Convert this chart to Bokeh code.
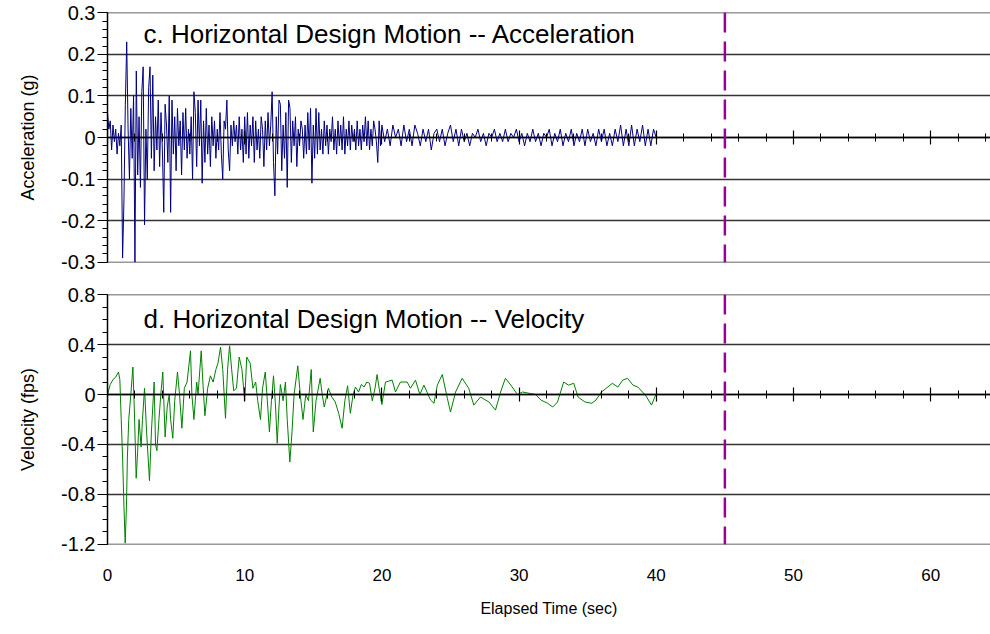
from bokeh.plotting import figure
from bokeh.layouts import column
from bokeh.models import Range1d, FixedTicker, SingleIntervalTicker, LinearAxis, Span, Label, CustomJSTickFormatter
from bokeh.embed import file_html
from bokeh.resources import INLINE

# ---------------- data ----------------
# acceleration (g), 0.0 .. 20.0 s every 0.1 s
acc_early = [
    0.06, 0.02, 0.04, -0.03, 0.03, -0.01, 0.02, -0.04, 0.01, -0.02,
    0.03, -0.29, -0.15, 0.08, 0.23, 0.02, -0.10, 0.07, -0.05, 0.10,
    -0.30, 0.16, -0.09, 0.05, -0.12, 0.11, 0.17, -0.21, 0.02, -0.10,
    0.12, 0.17, -0.05, 0.15, -0.08, 0.05, -0.03, 0.09, -0.07, 0.06,
    -0.03, -0.18, 0.08, 0.03, -0.06, 0.10, -0.18, 0.09, -0.04, 0.05,
    -0.08, 0.07, -0.02, 0.04, -0.09, 0.06, -0.03, 0.07, -0.05, 0.02,
    -0.04, 0.05, -0.10, 0.11, 0.06, -0.07, 0.09, -0.02, 0.09, -0.11,
    0.04, -0.06, 0.07, -0.04, 0.03, -0.07, 0.05, -0.02, 0.04, -0.05,
    0.02, -0.03, 0.06, -0.04, -0.10, 0.04, 0.02, 0.09, -0.03, -0.08,
    0.03, -0.02, 0.04, -0.01, 0.03, -0.04, 0.05, -0.03, 0.02, -0.06,
    0.05, -0.04, 0.06, -0.05, 0.03, -0.02, 0.05, -0.06, 0.04, -0.03,
    0.02, -0.05, 0.05, 0.02, -0.07, 0.04, -0.03, 0.06, -0.02, 0.03,
    0.11, -0.06, -0.14, 0.05, -0.04, 0.09, 0.08, -0.08, 0.03, -0.05,
    0.06, -0.12, 0.09, 0.07, -0.06, 0.04, -0.02, 0.05, -0.07, 0.02,
    -0.02, 0.04, 0.02, -0.05, 0.03, -0.04, 0.06, -0.03, 0.07, -0.11,
    0.03, -0.05, 0.07, -0.04, 0.06, -0.03, 0.02, -0.04, 0.04, -0.02,
    0.03, -0.04, 0.02, -0.01, 0.05, -0.03, 0.02, -0.04, 0.04, -0.02,
    0.03, -0.03, 0.05, -0.04, 0.02, -0.02, 0.04, -0.03, 0.03, -0.01,
    0.02, -0.03, 0.04, -0.02, 0.02, -0.03, 0.03, -0.01, 0.05, -0.02,
    0.04, -0.03, 0.02, -0.02, 0.04, 0.02, -0.01, -0.06, 0.04, -0.02,
    0.03,
]
# acceleration (g), 20.2 .. 40.0 s every 0.2 s
acc_late = [
    -0.01, 0.02, -0.02, 0.03, 0.00, 0.02, -0.02, 0.03, -0.01, 0.02,
    -0.02, 0.03, 0.01, -0.02, 0.02, -0.01, 0.02, -0.03, 0.01, 0.02,
    -0.01, 0.02, -0.02, 0.01, 0.03, -0.01, 0.02, -0.02, 0.02, -0.01,
    0.01, -0.02, 0.01, 0.00, 0.02, -0.01, 0.01, -0.02, 0.01, 0.00,
    0.02, -0.01, 0.01, -0.01, 0.02, -0.01, 0.01, 0.00, 0.02, -0.01,
    0.01, -0.02, 0.01, -0.01, 0.02, -0.01, 0.01, -0.02, 0.01, 0.00,
    0.02, -0.02, 0.01, -0.01, 0.02, -0.02, 0.01, -0.01, 0.02, -0.02,
    0.01, -0.01, 0.02, -0.02, 0.02, -0.01, 0.01, -0.02, 0.02, -0.01,
    0.02, -0.02, 0.01, -0.02, 0.02, -0.01, 0.03, -0.02, 0.02, -0.02,
    0.03, -0.02, 0.02, -0.01, 0.03, -0.02, 0.02, -0.02, 0.02, 0.00,
]
acc_time = [round(i * 0.1, 2) for i in range(len(acc_early))] + \
           [round(20.2 + i * 0.2, 2) for i in range(len(acc_late))]
acc_values = acc_early + acc_late

# velocity (fps)
vel_time = [
    0.0, 0.2, 0.4, 0.6, 0.8, 0.9, 1.0, 1.1, 1.2, 1.29, 1.38, 1.45, 1.55, 1.7, 1.85, 1.95,
    2.09, 2.2, 2.3, 2.45, 2.55, 2.7, 2.85, 3.06, 3.2, 3.4, 3.5, 3.6, 3.75, 3.9, 4.03, 4.2,
    4.35, 4.5, 4.6, 4.76, 4.9, 5.1, 5.25, 5.42, 5.6, 5.8, 6.05, 6.15, 6.3, 6.5, 6.6, 6.83,
    6.95, 7.1, 7.3, 7.5, 7.7, 7.9, 8.05, 8.24, 8.4, 8.6, 8.75, 8.9, 9.05, 9.2, 9.4, 9.6,
    9.8, 10.0, 10.15, 10.4, 10.6, 10.8, 10.95, 11.15, 11.3, 11.5, 11.65, 11.8, 11.95, 12.1,
    12.25, 12.37, 12.5, 12.6, 12.8, 12.97, 13.1, 13.29, 13.45, 13.6, 13.87, 14.05, 14.25,
    14.45, 14.65, 14.85, 15.0, 15.2, 15.5, 15.65, 15.8, 16.1, 16.35, 16.6, 16.85, 17.1,
    17.3, 17.5, 17.7, 17.9, 18.07, 18.3, 18.5, 18.7, 18.9, 19.1, 19.3, 19.5, 19.65, 19.8,
    20.0, 20.26, 20.75, 20.99, 21.35, 21.84, 22.08, 22.45, 22.77, 23.06, 23.55, 23.8,
    24.04, 24.4, 24.77, 25.0, 25.37, 25.85, 26.33, 26.7, 27.19, 27.8, 28.28, 28.65, 29.0,
    29.4, 29.88, 30.25, 30.73, 31.2, 31.6, 32.08, 32.45, 32.8, 33.25, 33.6, 33.98, 34.3,
    34.8, 35.3, 35.6, 36.0, 36.35, 36.8, 37.2, 37.55, 37.9, 38.3, 38.65, 39.0, 39.3,
    39.65, 39.97,
]
vel_values = [
    0.0, 0.08, 0.12, 0.14, 0.18, 0.12, -0.2, -0.5, -0.9, -1.19, -0.9, -0.5, -0.2, 0.0, 0.22, -0.1,
    -0.67, -0.45, -0.2, -0.42, -0.2, 0.05, -0.3, -0.69, -0.3, 0.1, -0.4, -0.45, -0.2, 0.02, 0.18, -0.34,
    -0.1, 0.0, -0.2, -0.35, -0.05, 0.18, 0.0, -0.27, 0.05, 0.1, 0.35, 0.0, -0.2, 0.1, 0.0, 0.35,
    0.1, -0.17, 0.05, 0.15, 0.1, 0.2, 0.25, 0.38, 0.2, -0.19, 0.2, 0.39, 0.2, 0.03, 0.05, 0.3,
    0.2, -0.05, 0.3, 0.25, 0.05, 0.1, -0.05, -0.2, 0.05, 0.18, -0.05, -0.3, -0.05, 0.15,
    -0.1, -0.39, -0.1, 0.08, -0.05, 0.1, -0.2, -0.54, -0.3, 0.0, 0.23, 0.0, -0.2,
    0.0, -0.05, 0.2, -0.3, -0.05, 0.13, 0.0, -0.1, 0.05, -0.02, -0.06, -0.15, -0.27,
    -0.05, 0.07, -0.15, 0.0, 0.06, 0.02, 0.08, 0.06, 0.1, 0.09, -0.05, 0.05, 0.16, 0.05,
    -0.08, 0.1, 0.115, 0.02, 0.1, 0.1, 0.05, 0.115, 0.0, 0.075, -0.045, -0.07,
    0.075, 0.16, -0.03, -0.14, 0.02, 0.13, 0.05, -0.085, -0.02, -0.06, -0.125, 0.02, 0.13,
    0.075, 0.0, 0.02, 0.01, 0.0, -0.045, -0.07, -0.1, -0.06, 0.1, 0.075, 0.09, -0.02,
    -0.06, -0.07, -0.045, 0.02, 0.05, 0.09, 0.06, 0.115, 0.13, 0.075, 0.06, 0.02, -0.02,
    -0.085, 0.0,
]

x_ticks = [0, 10, 20, 30, 40, 50, 60]
x_tick_labels = ["0", "10", "20", "30", "40", "50", "60"]
acc_ticks = [-0.3, -0.2, -0.1, 0.0, 0.1, 0.2, 0.3]
acc_tick_labels = ["-0.3", "-0.2", "-0.1", "0", "0.1", "0.2", "0.3"]
vel_ticks = [-1.2, -0.8, -0.4, 0.0, 0.4, 0.8]
vel_tick_labels = ["-1.2", "-0.8", "-0.4", "0", "0.4", "0.8"]
cutoff_time = 45

title_acc = "c. Horizontal Design Motion -- Acceleration"
title_vel = "d. Horizontal Design Motion -- Velocity"

# ---------------- styling ----------------
FONT = "Liberation Sans"
GRID = "#333333"
xr = Range1d(0, 64.36)


def style_common(p, yticks, ylabels, minor_step, ylabel):
    p.background_fill_color = "white"
    p.border_fill_color = "white"
    p.outline_line_color = None
    p.xgrid.visible = False
    p.ygrid.ticker = FixedTicker(ticks=yticks)
    p.ygrid.grid_line_color = GRID
    p.ygrid.grid_line_width = 1.6
    lo, hi = yticks[0], yticks[-1]
    n = int(round((hi - lo) / minor_step))
    minors = [round(lo + k * minor_step, 4) for k in range(n + 1)]
    yax = p.yaxis[0]
    yax.ticker = FixedTicker(ticks=yticks, minor_ticks=minors)
    yax.major_label_overrides = dict(zip(yticks, ylabels))
    yax.major_tick_out = 10
    yax.major_tick_in = 0
    yax.minor_tick_out = 5
    yax.minor_tick_in = 0
    yax.axis_line_color = "black"
    yax.axis_line_width = 1.5
    yax.major_tick_line_color = "black"
    yax.minor_tick_line_color = "black"
    yax.major_label_text_font = FONT
    yax.major_label_text_font_size = "20px"
    yax.major_label_text_color = "black"
    yax.major_label_standoff = 2
    yax.axis_label = ylabel
    yax.axis_label_text_font = FONT
    yax.axis_label_text_font_size = "18px"
    yax.axis_label_text_font_style = "normal"
    yax.axis_label_text_color = "black"
    yax.axis_label_standoff = 20

    zero_axis = LinearAxis(
        fixed_location=0,
        ticker=SingleIntervalTicker(interval=10, num_minor_ticks=5),
        formatter=CustomJSTickFormatter(code="return ''"),
        axis_line_color="black", axis_line_width=1.5,
        major_tick_in=7, major_tick_out=7, minor_tick_in=4, minor_tick_out=4,
        major_tick_line_color="black", minor_tick_line_color="black",
        major_tick_line_width=1.2, minor_tick_line_width=1,
    )
    p.add_layout(zero_axis, "above")
    p.add_layout(Span(location=cutoff_time, dimension="height",
                      line_color="#990099", line_width=2.5, line_dash="20 9"))


# ---------------- top panel: acceleration ----------------
p1 = figure(width=990, height=275, x_range=xr, y_range=Range1d(-0.3006, 0.3006),
            output_backend="svg", toolbar_location=None, x_axis_location=None,
            min_border_left=107, min_border_right=0, min_border_top=12, min_border_bottom=13)
style_common(p1, acc_ticks, acc_tick_labels, 0.02, "Acceleration (g)")
p1.line(acc_time, acc_values, line_color="#000080", line_width=1)
p1.add_layout(Label(x=36, y=229, x_units="screen", y_units="screen", text=title_acc,
                    text_font=FONT, text_font_size="26px", text_baseline="middle",
                    text_color="black"))

# ---------------- bottom panel: velocity ----------------
p2 = figure(width=990, height=359, x_range=xr, y_range=Range1d(-1.2008, 0.8008),
            output_backend="svg", toolbar_location=None, x_axis_location=None,
            min_border_left=107, min_border_right=0, min_border_top=19, min_border_bottom=90)
style_common(p2, vel_ticks, vel_tick_labels, 0.1, "Velocity (fps)")
xax = LinearAxis(
    ticker=FixedTicker(ticks=x_ticks),
    major_label_overrides=dict(zip(x_ticks, x_tick_labels)),
    axis_line_color=None, major_tick_line_color=None, minor_tick_line_color=None,
    major_tick_out=0, major_tick_in=0, minor_tick_out=0, minor_tick_in=0,
    major_label_standoff=24,
    major_label_text_font=FONT, major_label_text_font_size="17px",
    major_label_text_color="black",
    axis_label="Elapsed Time (sec)", axis_label_text_font=FONT,
    axis_label_text_font_size="16px", axis_label_text_font_style="normal",
    axis_label_text_color="black", axis_label_standoff=16,
)
p2.add_layout(xax, "below")
p2.line(vel_time, vel_values, line_color="#008000", line_width=1)
p2.add_layout(Label(x=36, y=226, x_units="screen", y_units="screen", text=title_vel,
                    text_font=FONT, text_font_size="26px", text_baseline="middle",
                    text_color="black"))

layout = column(p1, p2, spacing=0)
open("out.html", "w").write(file_html(layout, INLINE))
